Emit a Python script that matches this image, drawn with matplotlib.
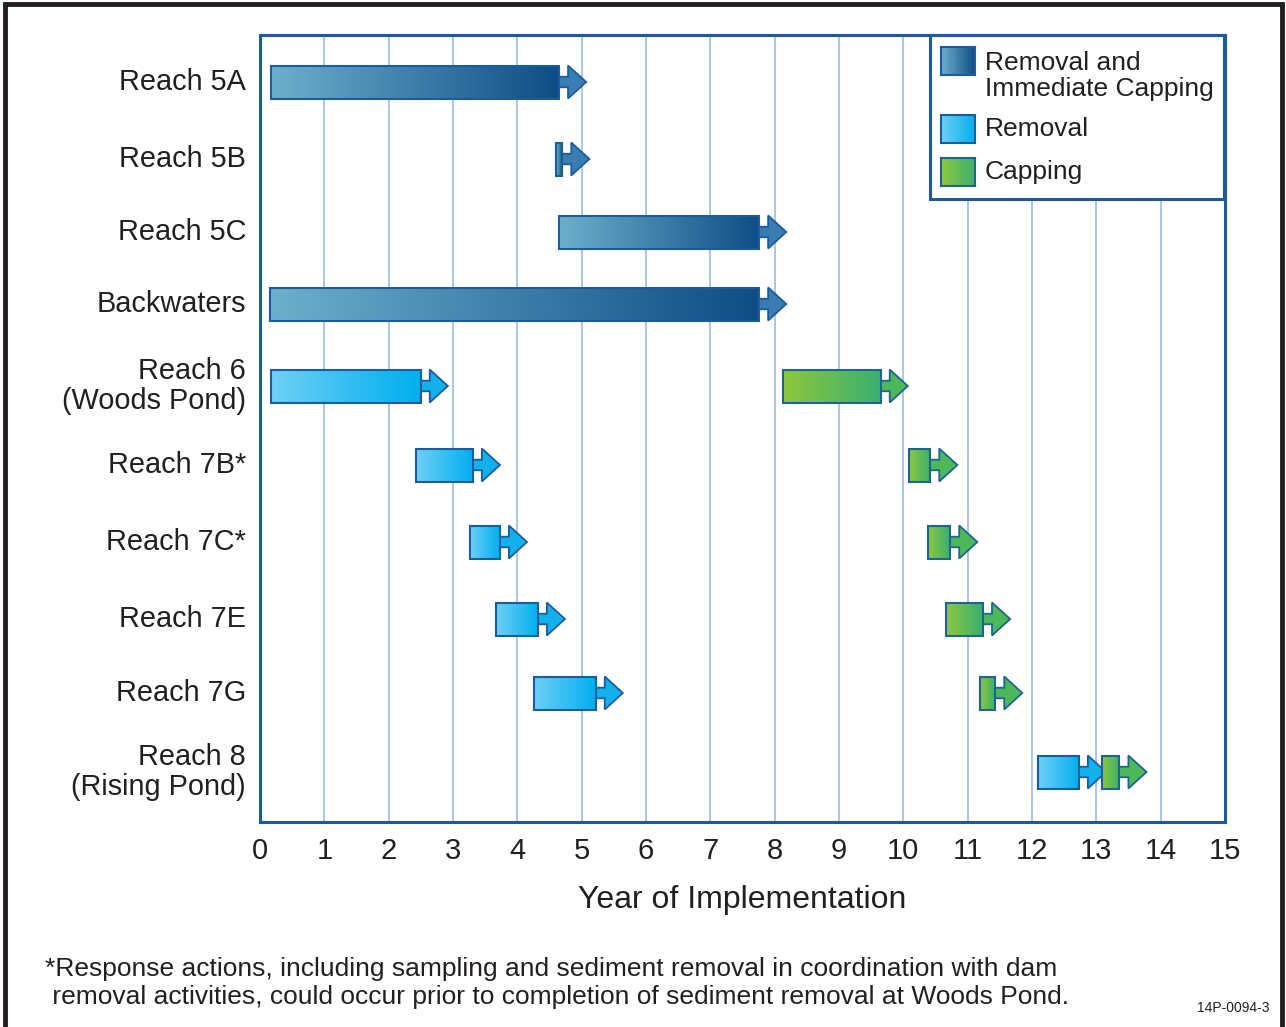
import matplotlib
matplotlib.use("Agg")
import matplotlib.pyplot as plt
import numpy as np
from matplotlib.patches import Rectangle, Polygon
from matplotlib.colors import LinearSegmentedColormap

plt.rcParams['font.family'] = ['Liberation Sans', 'DejaVu Sans']

# ---------------- data ----------------
reaches = ["Reach 5A", "Reach 5B", "Reach 5C", "Backwaters", "Reach 6\n(Woods Pond)",
           "Reach 7B*", "Reach 7C*", "Reach 7E", "Reach 7G", "Reach 8\n(Rising Pond)"]
# (reach index, start year, end year)
ric_bars = [(0, 0.17, 4.65), (1, 4.60, 4.70), (2, 4.65, 7.76), (3, 0.15, 7.76)]
removal_bars = [(4, 0.17, 2.50), (5, 2.43, 3.31), (6, 3.27, 3.73), (7, 3.67, 4.32),
                (8, 4.26, 5.22), (9, 12.09, 12.73)]
capping_bars = [(4, 8.13, 9.65), (5, 10.09, 10.42), (6, 10.39, 10.73), (7, 10.67, 11.24),
                (8, 11.19, 11.43), (9, 13.09, 13.36)]
xticks = list(range(0, 16))
xlabel = "Year of Implementation"
legend_labels = ["Removal and\nImmediate Capping", "Removal", "Capping"]
footnote = ("*Response actions, including sampling and sediment removal in coordination with dam\n"
            " removal activities, could occur prior to completion of sediment removal at Woods Pond.")
figcode = "14P-0094-3"

# ---------------- layout ----------------
W, H = 1286, 1027
row_centers = [82, 159, 232, 304, 386, 465, 542, 619, 693, 772]   # pixel rows
bar_h = 33
arrow_len = 0.42
shaft_frac = 0.32
TXT = "#231f20"
EDGE = "#1b5c9c"

styles = {
    "ric": dict(c0="#6cb0cd", c1="#0f4c85", arrow="#3a7db1", edge=EDGE),
    "rem": dict(c0="#6fd0f6", c1="#00aeef", arrow="#12b1ec", edge=EDGE),
    "cap": dict(c0="#8fc73e", c1="#38b070", arrow="#4cb85a", edge="#1f6390"),
}

fig = plt.figure(figsize=(W / 100, H / 100), dpi=100)
ax = fig.add_axes([260 / W, 1 - 822 / H, (1225 - 260) / W, (822 - 35) / H])
ax.set_xlim(0, 15)
ax.set_ylim(822, 35)

for x in xticks[1:-1]:
    ax.axvline(x, color="#9dbce4", lw=1.2, zorder=1)

grad = np.linspace(0, 1, 256).reshape(1, -1)


def draw_arrow(y, x0, st):
    hh = bar_h / 2
    sh = bar_h * shaft_frac / 2
    shaft = arrow_len * 0.33
    pts = [(x0 - 0.02, y - sh), (x0 + shaft, y - sh), (x0 + shaft, y - hh),
           (x0 + arrow_len, y), (x0 + shaft, y + hh), (x0 + shaft, y + sh),
           (x0 - 0.02, y + sh)]
    ax.add_patch(Polygon(pts, closed=True, facecolor=st["arrow"], edgecolor=st["edge"],
                         lw=1.3, zorder=3))


def draw_bar(y, x0, x1, st, z=4):
    cmap = LinearSegmentedColormap.from_list("g", [st["c0"], st["c1"]])
    rect = Rectangle((x0, y - bar_h / 2), x1 - x0, bar_h, facecolor="none",
                     edgecolor=st["edge"], lw=1.5, zorder=z + 0.5)
    ax.add_patch(rect)
    im = ax.imshow(grad, cmap=cmap, aspect="auto", extent=(x0, x1, y + bar_h / 2, y - bar_h / 2),
                   zorder=z, interpolation="bilinear")
    im.set_clip_path(rect)


for key, bars in (("ric", ric_bars), ("rem", removal_bars), ("cap", capping_bars)):
    st = styles[key]
    for i, s, e in bars:
        y = row_centers[i]
        draw_arrow(y, e, st)
        draw_bar(y, s, e, st)

ax.set_xlim(0, 15)
ax.set_ylim(822, 35)

for sp in ax.spines.values():
    sp.set_color("#1d5aa0")
    sp.set_linewidth(2.2)
    sp.set_zorder(6)

ax.set_xticks(xticks)
ax.set_xticklabels([str(t) for t in xticks], fontsize=21, color=TXT)
ax.tick_params(axis="x", length=0, pad=11)
ax.set_yticks([])
ax.set_xlabel(xlabel, fontsize=23, color=TXT, labelpad=14)

for lab, y in zip(reaches, row_centers):
    fig.text(246 / W, 1 - y / H, lab, ha="right", va="center", fontsize=20.8, color=TXT,
             linespacing=1.08, multialignment="right")

# legend
lx0, ly0, lx1, ly1 = 930, 35, 1224, 199
fig.patches.append(Rectangle((lx0 / W, 1 - ly1 / H), (lx1 - lx0) / W, (ly1 - ly0) / H,
                             transform=fig.transFigure, facecolor="white",
                             edgecolor="#1d5aa0", lw=2.2, zorder=10))
leg_items = [("ric", 61, 76), ("rem", 129, 129), ("cap", 172, 172)]
for (key, sy, ty), lab in zip(leg_items, legend_labels):
    st = styles[key]
    pax = fig.add_axes([941 / W, 1 - (sy + 14) / H, 34 / W, 28 / H], zorder=11)
    cmap = LinearSegmentedColormap.from_list("g", [st["c0"], st["c1"]])
    pax.imshow(grad, cmap=cmap, aspect="auto", interpolation="bilinear")
    pax.set_xticks([]); pax.set_yticks([])
    for sp in pax.spines.values():
        sp.set_color(st["edge"]); sp.set_linewidth(1.5)
    fig.text(985 / W, 1 - ty / H, lab, ha="left", va="center", fontsize=19, color=TXT,
             linespacing=1.12, zorder=12)

fig.text(45 / W, 1 - 983 / H, footnote, ha="left", va="center", fontsize=19, color=TXT,
         linespacing=1.22)
fig.text(1270 / W, 1 - 1008 / H, figcode, ha="right", va="center", fontsize=10, color=TXT)

# outer frame
fig.patches.append(Rectangle((5 / W, -0.02), (W - 9) / W, 1.02 - 4 / H,
                             transform=fig.transFigure, facecolor="none",
                             edgecolor=TXT, lw=3.5, zorder=20))

fig.savefig("out.png", dpi=100)
